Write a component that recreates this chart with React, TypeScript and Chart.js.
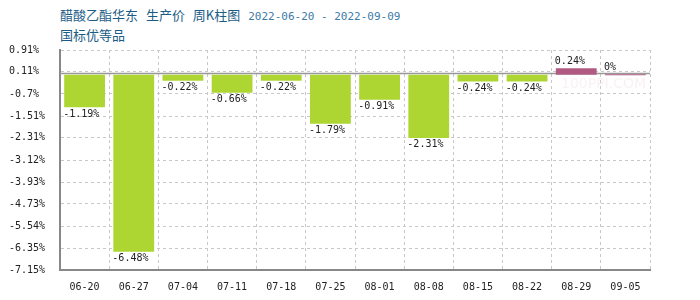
import React, { useEffect, useRef } from "react";
import { Chart, registerables } from "chart.js";

Chart.register(...registerables);

const categories = ["06-20", "06-27", "07-04", "07-11", "07-18", "07-25", "08-01", "08-08", "08-15", "08-22", "08-29", "09-05"];
const values = [-1.19, -6.48, -0.22, -0.66, -0.22, -1.79, -0.91, -2.31, -0.24, -0.24, 0.24, 0];
const tickValues = [0.91, 0.11, -0.7, -1.51, -2.31, -3.12, -3.93, -4.73, -5.54, -6.35, -7.15];
const tickLabels = ["0.91%", "0.11%", "-0.7%", "-1.51%", "-2.31%", "-3.12%", "-3.93%", "-4.73%", "-5.54%", "-6.35%", "-7.15%"];
const titleMain = "醋酸乙酯华东 生产价 周K柱图";
const titleDate = "2022-06-20 - 2022-09-09";
const subTitle = "国标优等品";

const GREEN = "#ADD633";
const MAGENTA = "#B05A82";
const MONO = "'DejaVu Sans Mono', 'Liberation Mono', monospace";

const overlayPlugin = {
  id: "overlay",
  beforeDatasetsDraw(chart: any) {
    const { ctx, chartArea, scales } = chart;
    ctx.save();
    ctx.fillStyle = "rgba(235,210,214,0.3)";
    ctx.font = "14px 'DejaVu Sans'";
    ctx.textAlign = "left";
    ctx.textBaseline = "top";
    ctx.fillText("100PPI.COM", 561, 77);
    ctx.restore();
    const y0 = Math.round(scales.y.getPixelForValue(0)) - 1.5;
    ctx.save();
    ctx.strokeStyle = "#999999";
    ctx.lineWidth = 1.5;
    ctx.beginPath();
    ctx.moveTo(chartArea.left, y0);
    ctx.lineTo(chartArea.right, y0);
    ctx.stroke();
    ctx.restore();
  },
  afterDatasetsDraw(chart: any) {
    const { ctx } = chart;
    const meta = chart.getDatasetMeta(0);
    ctx.save();
    ctx.font = "10px " + MONO;
    ctx.fillStyle = "#222";
    ctx.textAlign = "left";
    meta.data.forEach((bar: any, i: number) => {
      const v = values[i];
      const left = bar.x - bar.width / 2 - 1;
      const text = v + "%";
      if (v < 0) {
        ctx.textBaseline = "top";
        ctx.fillText(text, left, bar.y + 2);
      } else {
        ctx.textBaseline = "bottom";
        ctx.fillText(text, left, Math.min(bar.y, bar.base) - 2);
      }
    });
    ctx.restore();
  },
};

export default function App() {
  const ref = useRef<HTMLCanvasElement>(null);
  useEffect(() => {
    if (!ref.current) return;
    const chart = new Chart(ref.current, {
      type: "bar",
      data: {
        labels: categories,
        datasets: [
          {
            data: values,
            backgroundColor: values.map((v) => (v >= 0 ? MAGENTA : GREEN)),
            barPercentage: 0.83,
            categoryPercentage: 1,
            minBarLength: 1,
          },
        ],
      },
      options: {
        animation: false,
        responsive: false,
        maintainAspectRatio: false,
        layout: { padding: { top: 50, right: 50, left: 9, bottom: 0 } },
        plugins: { legend: { display: false }, tooltip: { enabled: false } },
        scales: {
          x: {
            offset: true,
            grid: { offset: true, color: "#c8c8c8", drawTicks: false },
            border: { color: "#888888", width: 2, dash: [3, 3] },
            ticks: { font: { family: MONO, size: 10 }, color: "#222", padding: 11, maxRotation: 0, autoSkip: false },
            afterFit: (s: any) => { s.height = 30; },
          },
          y: {
            min: -7.15,
            max: 0.91,
            afterBuildTicks: (s: any) => { s.ticks = tickValues.map((v) => ({ value: v })); },
            grid: { color: "#c8c8c8", drawTicks: false },
            border: { color: "#888888", width: 2, dash: [3, 3] },
            ticks: {
              font: { family: MONO, size: 10 },
              color: "#222",
              padding: 14,
              crossAlign: "far",
              callback: (_v: any, i: number) => tickLabels[i],
            },
            afterFit: (s: any) => { s.width = 51; },
          },
        },
      },
      plugins: [overlayPlugin],
    });
    return () => chart.destroy();
  }, []);
  return (
    <div style={{ position: "fixed", left: 0, top: 0, width: 700, height: 300, background: "#fff" }}>
      <div style={{ position: "absolute", left: 60, top: 6, fontFamily: "'Noto Sans CJK SC'", fontSize: 13, color: "#1B5C86", lineHeight: "17px", whiteSpace: "nowrap", wordSpacing: 5 }}>
        {titleMain}{" "}
        <span style={{ fontFamily: MONO, fontSize: 11, color: "#3E7BA6", wordSpacing: 0 }}>{titleDate}</span>
      </div>
      <div style={{ position: "absolute", left: 60, top: 26, fontFamily: "'Noto Sans CJK SC'", fontSize: 13, color: "#1B5C86", lineHeight: "17px" }}>
        {subTitle}
      </div>
      <canvas ref={ref} width={700} height={300} style={{ position: "absolute", left: 0, top: 0 }} />
    </div>
  );
}
